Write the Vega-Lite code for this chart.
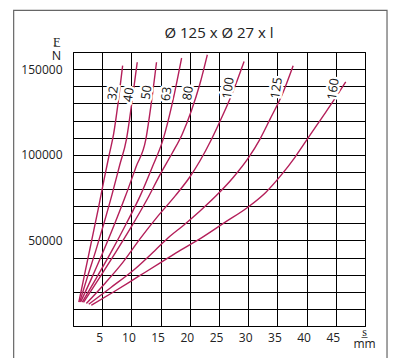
{
  "$schema": "https://vega.github.io/schema/vega-lite/v6.json",
  "width": 292,
  "height": 274,
  "autosize": {"type": "none"},
  "padding": {"left": 73, "top": 52, "right": 28, "bottom": 32},
  "background": "white",
  "config": {
    "font": "Open Sans",
    "view": {"stroke": "#000", "strokeWidth": 1}
  },
  "title": {
    "text": "Ø 125 x Ø 27 x l",
    "frame": "group",
    "fontSize": 15,
    "fontWeight": "normal",
    "color": "#222",
    "offset": -43,
    "baseline": "alphabetic",
    "anchor": "middle"
  },
  "datasets": {
    "curves": [
      {"l": "32", "s": 1.0, "F": 14000}, {"l": "32", "s": 2.1, "F": 32000}, {"l": "32", "s": 3.2, "F": 50000}, {"l": "32", "s": 4.3, "F": 68000}, {"l": "32", "s": 5.35, "F": 86000}, {"l": "32", "s": 6.2, "F": 100000}, {"l": "32", "s": 6.95, "F": 112000}, {"l": "32", "s": 7.75, "F": 131000}, {"l": "32", "s": 8.5, "F": 152000},
      {"l": "40", "s": 1.15, "F": 14000}, {"l": "40", "s": 2.5, "F": 29000}, {"l": "40", "s": 3.9, "F": 44000}, {"l": "40", "s": 5.3, "F": 60000}, {"l": "40", "s": 6.7, "F": 77000}, {"l": "40", "s": 8.0, "F": 94000}, {"l": "40", "s": 9.15, "F": 109000}, {"l": "40", "s": 10.1, "F": 131000}, {"l": "40", "s": 11.0, "F": 154000},
      {"l": "50", "s": 1.3, "F": 14000}, {"l": "50", "s": 3.0, "F": 26500}, {"l": "50", "s": 5.0, "F": 42000}, {"l": "50", "s": 7.0, "F": 58500}, {"l": "50", "s": 9.0, "F": 76000}, {"l": "50", "s": 10.8, "F": 93000}, {"l": "50", "s": 12.47, "F": 109000}, {"l": "50", "s": 13.4, "F": 130000}, {"l": "50", "s": 14.3, "F": 154000},
      {"l": "63", "s": 1.6, "F": 14000}, {"l": "63", "s": 4.0, "F": 28000}, {"l": "63", "s": 6.5, "F": 43000}, {"l": "63", "s": 9.0, "F": 59000}, {"l": "63", "s": 11.5, "F": 76000}, {"l": "63", "s": 13.6, "F": 93000}, {"l": "63", "s": 15.43, "F": 109000}, {"l": "63", "s": 17.0, "F": 130000}, {"l": "63", "s": 18.6, "F": 156500},
      {"l": "80", "s": 1.8, "F": 13800}, {"l": "80", "s": 4.5, "F": 28000}, {"l": "80", "s": 7.3, "F": 43000}, {"l": "80", "s": 10.0, "F": 58000}, {"l": "80", "s": 12.7, "F": 74000}, {"l": "80", "s": 15.0, "F": 89000}, {"l": "80", "s": 17.0, "F": 101000}, {"l": "80", "s": 18.7, "F": 112000}, {"l": "80", "s": 20.3, "F": 126000}, {"l": "80", "s": 21.7, "F": 141000}, {"l": "80", "s": 23.0, "F": 158400},
      {"l": "100", "s": 2.3, "F": 13200}, {"l": "100", "s": 5.5, "F": 25000}, {"l": "100", "s": 8.5, "F": 37000}, {"l": "100", "s": 11.5, "F": 51000}, {"l": "100", "s": 14.5, "F": 64000}, {"l": "100", "s": 17.5, "F": 76000}, {"l": "100", "s": 20.0, "F": 87000}, {"l": "100", "s": 21.7, "F": 96200}, {"l": "100", "s": 23.7, "F": 108900}, {"l": "100", "s": 25.5, "F": 122000}, {"l": "100", "s": 27.4, "F": 137000}, {"l": "100", "s": 29.3, "F": 154500},
      {"l": "125", "s": 2.7, "F": 12700}, {"l": "125", "s": 6.5, "F": 22500}, {"l": "125", "s": 10.5, "F": 33000}, {"l": "125", "s": 14.0, "F": 44000}, {"l": "125", "s": 16.3, "F": 51500}, {"l": "125", "s": 19.0, "F": 59000}, {"l": "125", "s": 21.7, "F": 67000}, {"l": "125", "s": 24.5, "F": 76000}, {"l": "125", "s": 27.5, "F": 87000}, {"l": "125", "s": 30.0, "F": 98000}, {"l": "125", "s": 32.0, "F": 109000}, {"l": "125", "s": 33.7, "F": 120500}, {"l": "125", "s": 35.8, "F": 135000}, {"l": "125", "s": 37.7, "F": 152000},
      {"l": "160", "s": 3.15, "F": 12100}, {"l": "160", "s": 7.0, "F": 20000}, {"l": "160", "s": 11.0, "F": 28500}, {"l": "160", "s": 15.0, "F": 37000}, {"l": "160", "s": 18.5, "F": 44500}, {"l": "160", "s": 22.0, "F": 51500}, {"l": "160", "s": 26.0, "F": 60500}, {"l": "160", "s": 30.0, "F": 69500}, {"l": "160", "s": 33.0, "F": 78000}, {"l": "160", "s": 35.5, "F": 87500}, {"l": "160", "s": 38.0, "F": 98500}, {"l": "160", "s": 40.0, "F": 108500}, {"l": "160", "s": 42.5, "F": 121000}, {"l": "160", "s": 44.7, "F": 132000}, {"l": "160", "s": 46.7, "F": 142500}
    ],
    "labels": [
      {"l": "32", "s": 6.86, "F": 136000},
      {"l": "40", "s": 9.54, "F": 135000},
      {"l": "50", "s": 12.58, "F": 136400},
      {"l": "63", "s": 16.0, "F": 135500},
      {"l": "80", "s": 19.7, "F": 136000},
      {"l": "100", "s": 26.57, "F": 139000},
      {"l": "125", "s": 34.86, "F": 139000},
      {"l": "160", "s": 44.57, "F": 138400}
    ]
  },
  "layer": [
    {
      "data": {"name": "curves"},
      "mark": {"type": "line", "interpolate": "monotone", "color": "#b41f5a", "strokeWidth": 1.4},
      "encoding": {
        "detail": {"field": "l", "type": "nominal"},
        "x": {
          "field": "s", "type": "quantitative",
          "scale": {"domain": [0, 50], "nice": false, "zero": false},
          "axis": {
            "tickCount": 10,
            "labelExpr": "datum.value == 0 ? '' : datum.value == 50 ? ['s\u0332', 'mm'] : datum.label",
            "title": null,
            "domain": false,
            "ticks": false,
            "tickSize": 0,
            "grid": true,
            "gridColor": "#000",
            "gridOpacity": 1,
            "gridWidth": 1,
            "labelFlush": false,
            "labelOverlap": false,
            "labelFontSize": 12,
            "labelColor": "#222",
            "labelLineHeight": 12,
            "labelBaseline": "top",
            "labelPadding": {"condition": {"test": "datum.value == 50", "value": 0}, "value": 6},
            "labelOffset": {"condition": {"test": "datum.value == 50", "value": -1}, "value": -3}
          }
        },
        "y": {
          "field": "F", "type": "quantitative",
          "scale": {"domain": [0, 160000], "nice": false},
          "axis": {
            "tickCount": 16,
            "format": "d",
            "labelExpr": "datum.value % 50000 == 0 && datum.value > 0 && datum.value < 160000 ? datum.label : ''",
            "domain": false,
            "ticks": false,
            "tickSize": 0,
            "grid": true,
            "gridColor": "#000",
            "gridOpacity": 1,
            "gridWidth": 1,
            "labelFlush": false,
            "labelPadding": 11,
            "labelFontSize": 12,
            "labelColor": "#222",
            "title": ["F\u0332", "N"],
            "titleAngle": 0,
            "titleX": -17,
            "titleY": -7,
            "titleAlign": "center",
            "titleBaseline": "alphabetic",
            "titleFontWeight": "normal",
            "titleFontSize": 12.5,
            "titleColor": "#222",
            "titleLineHeight": 14
          }
        }
      }
    },
    {
      "data": {"values": [{}]},
      "mark": {"type": "rect", "fill": null, "stroke": "#666", "strokeWidth": 1.2, "clip": false},
      "encoding": {
        "x": {"datum": -10.16, "type": "quantitative"},
        "x2": {"datum": 53.77},
        "y": {"datum": 184300, "type": "quantitative"},
        "y2": {"datum": -25000}
      }
    },
    {
      "data": {"name": "labels"},
      "mark": {"type": "text", "fontSize": 12.5, "stroke": "white", "strokeWidth": 5, "fill": "white", "align": "center", "baseline": "middle"},
      "encoding": {
        "x": {"field": "s", "type": "quantitative"},
        "y": {"field": "F", "type": "quantitative"},
        "text": {"field": "l", "type": "nominal"},
        "angle": {"field": "l", "type": "nominal", "scale": {"domain": ["32", "40", "50", "63", "80", "100", "125", "160"], "range": [278, 278, 278, 282, 285, 290, 292, 305]}, "legend": null}
      }
    },
    {
      "data": {"name": "labels"},
      "mark": {"type": "text", "fontSize": 12.5, "color": "#111", "align": "center", "baseline": "middle"},
      "encoding": {
        "x": {"field": "s", "type": "quantitative"},
        "y": {"field": "F", "type": "quantitative"},
        "text": {"field": "l", "type": "nominal"},
        "angle": {"field": "l", "type": "nominal", "scale": {"domain": ["32", "40", "50", "63", "80", "100", "125", "160"], "range": [278, 278, 278, 282, 285, 290, 292, 305]}, "legend": null}
      }
    }
  ]
}
